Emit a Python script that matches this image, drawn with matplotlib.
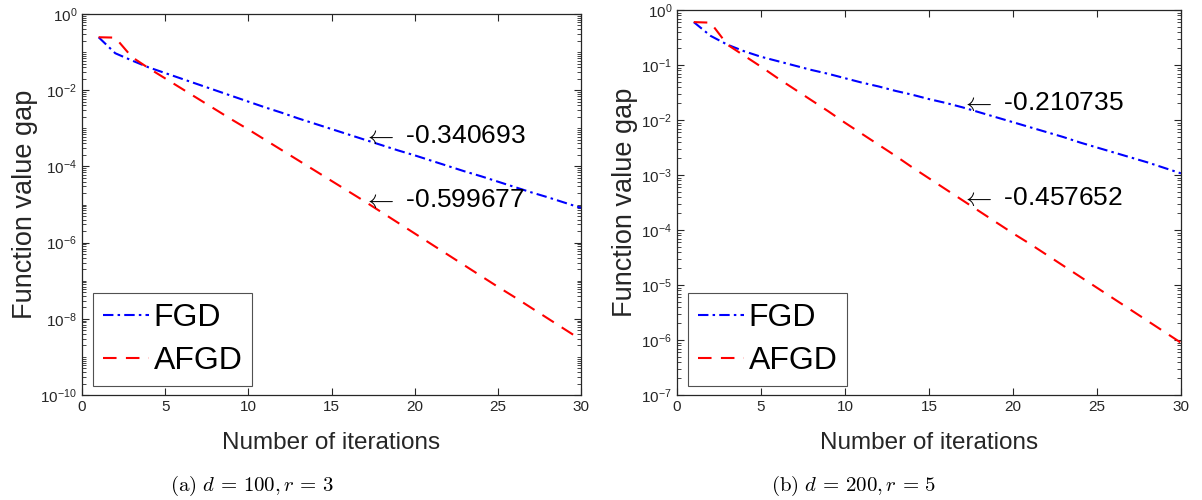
import numpy as np
import matplotlib
matplotlib.use('Agg')
import matplotlib.pyplot as plt
from matplotlib.ticker import LogLocator, NullFormatter, FixedLocator

plt.rcParams['font.family'] = ['Liberation Sans', 'DejaVu Sans']
plt.rcParams['mathtext.fontset'] = 'cm'

# iterations
iters = list(range(1, 31))

# (a) d=100, r=3 -- log10 of function value gap
fgd_a = [-0.61, -1.03, -1.22, -1.40, -1.55, -1.70, -1.85, -2.00, -2.15, -2.30,
         -2.45, -2.59, -2.74, -2.88, -3.02, -3.16, -3.30, -3.44, -3.58, -3.71,
         -3.85, -3.99, -4.13, -4.26, -4.40, -4.54, -4.68, -4.81, -4.95, -5.09]
afgd_a = [-0.61, -0.62, -1.13, -1.42, -1.69, -1.96, -2.23, -2.50, -2.77, -3.03,
          -3.30, -3.57, -3.84, -4.11, -4.38, -4.65, -4.92, -5.20, -5.48, -5.76,
          -6.04, -6.32, -6.60, -6.88, -7.16, -7.43, -7.71, -7.99, -8.27, -8.55]

# (b) d=200, r=5
fgd_b = [-0.22, -0.47, -0.63, -0.75, -0.85, -0.93, -1.01, -1.09, -1.16, -1.24,
         -1.32, -1.39, -1.47, -1.54, -1.62, -1.69, -1.77, -1.86, -1.95, -2.04,
         -2.13, -2.22, -2.31, -2.41, -2.50, -2.59, -2.68, -2.77, -2.87, -2.97]
afgd_b = [-0.22, -0.23, -0.63, -0.83, -1.03, -1.24, -1.44, -1.64, -1.84, -2.05,
          -2.25, -2.45, -2.65, -2.86, -3.06, -3.26, -3.46, -3.66, -3.86, -4.06,
          -4.25, -4.45, -4.65, -4.85, -5.05, -5.25, -5.45, -5.65, -5.85, -6.05]

# annotated rates: (label, log10 y of text)
rates_a = [('-0.340693', -3.20), ('-0.599677', -4.87)]
rates_b = [('-0.210735', -1.69), ('-0.457652', -3.42)]

captions = [r'$\mathrm{(a)}\ d\,=\,100, r\,=\,3$', r'$\mathrm{(b)}\ d\,=\,200, r\,=\,5$']
caption_x = [0.210, 0.710]

fig = plt.figure(figsize=(12.02, 5.0), dpi=100)
axa = fig.add_axes([0.0682, 0.210, 0.4152, 0.762])
axb = fig.add_axes([0.5632, 0.210, 0.4193, 0.770])

panels = [(axa, fgd_a, afgd_a, rates_a, -10, 2),
          (axb, fgd_b, afgd_b, rates_b, -7, 1)]

framecol = '#262626'
for i, (ax, fgd, afgd, rates, ymin, ystep) in enumerate(panels):
    ax.plot(iters, 10.0 ** np.array(fgd), color='blue', linestyle='-.', lw=1.5,
            dashes=(5, 2, 1.2, 2), label='FGD')
    ax.plot(iters, 10.0 ** np.array(afgd), color='red', linestyle='--', lw=1.5,
            dashes=(6.5, 4.5), label='AFGD')
    ax.set_yscale('log')
    ax.set_xlim(0, 30)
    ax.set_ylim(10.0 ** ymin, 1)
    ax.set_xticks([0, 5, 10, 15, 20, 25, 30])
    ax.yaxis.set_major_locator(FixedLocator(10.0 ** np.arange(ymin, 1, ystep)))
    ax.yaxis.set_minor_locator(LogLocator(base=10, subs=np.arange(1, 10), numticks=100))
    ax.yaxis.set_minor_formatter(NullFormatter())
    ax.tick_params(which='both', direction='in', top=True, right=True,
                   colors=framecol, labelcolor=framecol, labelsize=11)
    ax.tick_params(which='major', length=5)
    ax.tick_params(which='minor', length=3)
    for sp in ax.spines.values():
        sp.set_color(framecol)
        sp.set_linewidth(0.9)

    for txt, ly in rates:
        ax.text(16.9, 10.0 ** ly, r'$\leftarrow$ ' + txt, fontsize=19,
                ha='left', va='center')

    ax.set_xlabel('Number of iterations', fontsize=17.5, color=framecol, labelpad=13)
    ax.set_ylabel('Function value gap', fontsize=19.5, color=framecol, labelpad=2)
    ax.legend(loc='lower left', bbox_to_anchor=(0.022, 0.024), fontsize=23,
              frameon=True, fancybox=False, edgecolor=framecol,
              handlelength=1.45, handletextpad=0.15, borderaxespad=0.0,
              borderpad=0.3, labelspacing=0.42)
    ax.get_legend().get_frame().set_linewidth(0.8)

    fig.text(caption_x[i], 0.028, captions[i], ha='center', va='center', fontsize=15)

fig.savefig('out.png', dpi=100)
